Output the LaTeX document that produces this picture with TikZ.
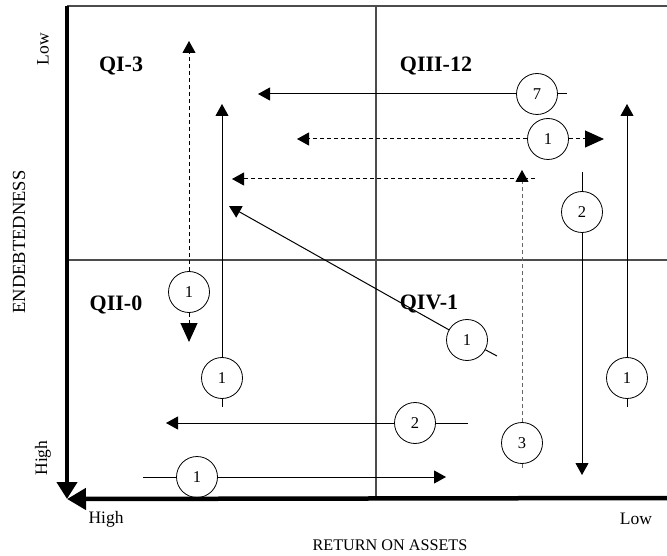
\documentclass[tikz,border=0pt]{standalone}
\usepackage{fontspec}
\setmainfont{Liberation Serif}
\usetikzlibrary{arrows.meta}
\begin{document}
\begin{tikzpicture}[x=1pt,y=-1pt,
  num/.style={draw,circle,minimum size=41pt,inner sep=0pt,line width=0.8pt,font=\fontsize{16.5}{16.5}\selectfont},
  quad/.style={font=\fontsize{22}{22}\selectfont\bfseries},
  lab/.style={font=\fontsize{17.5}{17.5}\selectfont},
  grid/.style={draw=black!70,line width=1.3pt},
  mv/.style={line width=1pt},
  dsh/.style={line width=1pt,dash pattern=on 4pt off 3pt},
  tipm/.style={-{Triangle[length=12pt,width=13pt]}},
  tipmk/.style={-{Triangle[length=12pt,width=13pt,color=black]}},
  tipb/.style={-{Triangle[length=19pt,width=17pt]}}
]
\useasboundingbox (0,0) rectangle (667,556);
% frame
\coordinate (tl) at (67,6);
\coordinate (tr) at (667,6);
\coordinate (origin) at (67,499);
\coordinate (br) at (667,498);
\coordinate (mt) at (376,6);
\coordinate (mb) at (376,498);
\coordinate (ml) at (67,260);
\coordinate (mr) at (667,260);
\draw[grid] (tl) -- (tr);
\draw[grid] (mt) -- (mb);
\draw[grid] (ml) -- (mr);
\draw[line width=4.5pt,-{Triangle[length=17pt,width=20pt]}] (tl) -- (origin);
\draw[line width=4.5pt,-{Triangle[length=19pt,width=21pt]}] (br) -- (origin);
% axis labels
\node[lab,rotate=90] (lowy) at (43,49) {Low};
\node[lab,rotate=90] (highy) at (43,458) {High};
\node[font=\fontsize{18.5}{18.5}\selectfont,rotate=90] (ylab) at (19,242) {ENDEBTEDNESS};
\node[lab] (highx) at (106,519) {High};
\node[lab] (lowx) at (636,519) {Low};
\node[font=\fontsize{16.2}{16.2}\selectfont] (xlab) at (390,545) {RETURN ON ASSETS};
% quadrant labels
\node[quad] (q1) at (121,66) {QI-3};
\node[quad] (q3) at (436,66) {QIII-12};
\node[quad] (q2) at (116,305) {QII-0};
% A: dashed vertical double arrow
\node[num] (nA) at (189,292) {1};
\coordinate (tA1) at (189,41);
\coordinate (tA2) at (189,342);
\draw[dsh,tipm] (nA) -- (tA1);
\draw[dsh,tipb] (nA) -- (tA2);
% B: solid vertical up
\node[num] (nB) at (222,378) {1};
\coordinate (tB) at (222,104);
\coordinate (eB) at (222,407);
\draw[mv,tipm] (nB) -- (tB);
\draw[mv] (nB) -- (eB);
% C: solid horizontal 7
\node[num] (nC) at (537,94) {7};
\coordinate (tC) at (258,94);
\coordinate (eC) at (567,94);
\draw[mv,tipm] (nC) -- (tC);
\draw[mv] (nC) -- (eC);
% D: dashed horizontal double arrow
\node[num] (nD) at (548,139) {1};
\coordinate (tD1) at (297,139);
\coordinate (tD2) at (604,139);
\draw[dsh,tipm] (nD) -- (tD1);
\draw[dsh,tipb] (nD) -- (tD2);
% E: dashed horizontal (no label)
\coordinate (sE) at (535,179);
\coordinate (tE) at (232,179);
\draw[dsh,tipm] (sE) -- (tE);
% E2: gray dashed vertical with 3
\node[num] (nE) at (522,443) {3};
\coordinate (tE2) at (522,170);
\coordinate (eE2) at (522,470);
\draw[dsh,draw=black!60,tipmk] (nE) -- (tE2);
\draw[dsh,draw=black!60] (nE) -- (eE2);
% F: solid vertical down with 2
\node[num] (nF) at (582,212) {2};
\coordinate (sF) at (582,172);
\coordinate (tF) at (582,475);
\draw[mv] (sF) -- (nF);
\draw[mv,tipm] (nF) -- (tF);
% G: solid vertical up, right
\node[num] (nG) at (627,378) {1};
\coordinate (tG) at (627,104);
\coordinate (eG) at (627,407);
\draw[mv,tipm] (nG) -- (tG);
\draw[mv] (nG) -- (eG);
% H: diagonal
\node[quad] (q4) at (429,304) {QIV-1};
\node[num] (nH) at (467,340) {1};
\coordinate (tH) at (229,206);
\coordinate (eH) at (497,356);
\draw[mv,tipm] (nH) -- (tH);
\draw[mv] (nH) -- (eH);
% I: horizontal with 2
\node[num] (nI) at (415,423) {2};
\coordinate (tI) at (166,423);
\coordinate (eI) at (468,423);
\draw[mv,tipm] (nI) -- (tI);
\draw[mv] (nI) -- (eI);
% J: bottom horizontal right
\node[num] (nJ) at (197,477) {1};
\coordinate (sJ) at (143,477);
\coordinate (tJ) at (446,477);
\draw[mv] (sJ) -- (nJ);
\draw[mv,tipm] (nJ) -- (tJ);
\end{tikzpicture}
\end{document}
